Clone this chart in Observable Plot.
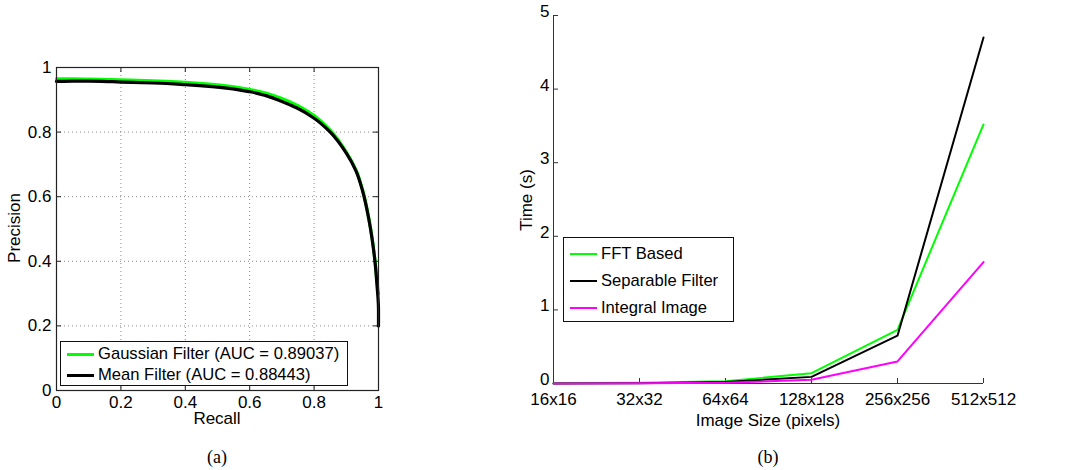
<!DOCTYPE html>
<html><head><meta charset="utf-8">
<script src="https://cdn.jsdelivr.net/npm/d3@7"></script>
<script src="https://cdn.jsdelivr.net/npm/@observablehq/plot@0.6"></script>
<style>
body{margin:0;background:#fff;font-family:"Liberation Sans",Arial,sans-serif;}
#wrap{position:relative;width:1070px;height:470px;overflow:hidden;}
#wrap svg text{font-family:"Liberation Sans",Arial,sans-serif !important;font-size:17px !important;fill:#000;}
.abs{position:absolute;white-space:nowrap;color:#000;}
.lbl{font-size:17px;transform:translate(-50%,-50%);}
.cap{font-family:"Liberation Serif","Times New Roman",serif;font-size:18px;transform:translate(-50%,-50%);}
.legend{position:absolute;border:1.5px solid #111;background:#fff;box-sizing:border-box;}
.row{position:absolute;left:6px;display:flex;align-items:center;font-size:16.6px;color:#000;}
.sw{display:inline-block;width:27px;margin-right:4px;}
</style></head>
<body><div id="wrap"></div>
<script>
// Panel (a): precision-recall
const recall = [0, 0.05, 0.1, 0.2, 0.3, 0.4, 0.5, 0.6, 0.65, 0.7, 0.75, 0.8, 0.85, 0.9, 0.93, 0.95, 0.97, 0.98, 0.99, 0.995, 1.0, 1.0];
const precisionMean = [0.957, 0.958, 0.958, 0.955, 0.952, 0.947, 0.939, 0.925, 0.913, 0.895, 0.873, 0.843, 0.800, 0.735, 0.68, 0.62, 0.53, 0.47, 0.39, 0.33, 0.25, 0.2];
const precisionGauss = [0.965, 0.965, 0.964, 0.962, 0.959, 0.954, 0.946, 0.932, 0.921, 0.904, 0.882, 0.851, 0.806, 0.738, 0.683, 0.623, 0.533, 0.473, 0.393, 0.34, 0.3, 0.3];
const prTicks = [0, 0.2, 0.4, 0.6, 0.8, 1];
const prSeries = ["Gaussian Filter (AUC = 0.89037)", "Mean Filter (AUC = 0.88443)"];

// Panel (b): timing
const sizes = ["16x16", "32x32", "64x64", "128x128", "256x256", "512x512"];
const timeFFT = [0.005, 0.01, 0.03, 0.14, 0.73, 3.52];
const timeSeparable = [0, 0.005, 0.02, 0.09, 0.65, 4.70];
const timeIntegral = [0, 0.005, 0.01, 0.05, 0.30, 1.65];
const timeTicks = [0, 1, 2, 3, 4, 5];
const timeSeries = ["FFT Based", "Separable Filter", "Integral Image"];

const GREEN = "#00ff00", BLACK = "#000000", MAGENTA = "#ff00ff";
const wrap = document.getElementById("wrap");

const prData = [];
recall.forEach((r, i) => prData.push({s: prSeries[0], r, p: precisionGauss[i]}));
recall.forEach((r, i) => prData.push({s: prSeries[1], r, p: precisionMean[i]}));

const aW = 400, aH = 430, aML = 56, aMR = 22, aMT = 67, aMB = 40;
const aPW = aW - aML - aMR, aPH = aH - aMT - aMB;
const plotA = Plot.plot({
  width: aW, height: aH, marginLeft: aML, marginRight: aMR, marginTop: aMT, marginBottom: aMB,
  style: {fontFamily: "Liberation Sans, Arial, sans-serif", fontSize: "17px", color: "#000", background: "transparent", overflow: "visible"},
  x: {domain: [0, 1], label: null},
  y: {domain: [0, 1], label: null},
  color: {domain: prSeries, range: [GREEN, BLACK]},
  marks: [
    Plot.gridX(prTicks, {stroke: "#888", strokeOpacity: 1, strokeDasharray: "1,3"}),
    Plot.gridY(prTicks, {stroke: "#888", strokeOpacity: 1, strokeDasharray: "1,3"}),
    Plot.axisX(prTicks, {tickSize: 0, tickPadding: 5, tickFormat: d => String(d), label: null}),
    Plot.axisY(prTicks, {tickSize: 0, tickPadding: 5, tickFormat: d => String(d), label: null}),
    Plot.ruleX(prTicks, {stroke: "#222", insetTop: aPH - 5}),
    Plot.ruleX(prTicks, {stroke: "#222", insetBottom: aPH - 5}),
    Plot.ruleY(prTicks, {stroke: "#222", insetRight: aPW - 5}),
    Plot.ruleY(prTicks, {stroke: "#222", insetLeft: aPW - 5}),
    Plot.line(prData, {x: "r", y: "p", z: "s", stroke: "s", strokeWidth: 3.2, curve: "monotone-y"}),
    Plot.frame({stroke: "#222", strokeWidth: 1.2})
  ]
});
plotA.style.position = "absolute"; plotA.style.left = "0px"; plotA.style.top = "0px";
wrap.appendChild(plotA);

const tData = [];
[[timeSeries[0], timeFFT], [timeSeries[1], timeSeparable], [timeSeries[2], timeIntegral]].forEach(([s, vals]) => {
  vals.forEach((v, i) => tData.push({s, size: sizes[i], t: v}));
});

const bLeft = 470;
const bW = 600, bH = 430, bML = 83, bMR = 87, bMT = 15, bMB = 47;
const bPW = bW - bML - bMR, bPH = bH - bMT - bMB;
const plotB = Plot.plot({
  width: bW, height: bH, marginLeft: bML, marginRight: bMR, marginTop: bMT, marginBottom: bMB,
  style: {fontFamily: "Liberation Sans, Arial, sans-serif", fontSize: "17px", color: "#000", background: "transparent", overflow: "visible"},
  x: {type: "point", domain: sizes, padding: 0, label: null},
  y: {domain: [0, 5], label: null},
  color: {domain: timeSeries, range: [GREEN, BLACK, MAGENTA]},
  marks: [
    Plot.axisX({tickSize: 0, tickPadding: 9, label: null}),
    Plot.axisY(timeTicks, {tickSize: 0, tickPadding: 4, dy: -4, tickFormat: d => String(d), label: null}),
    Plot.ruleX(sizes, {x: d => d, stroke: "#333", insetTop: bPH - 5}),
    Plot.ruleY(timeTicks, {y: d => d, stroke: "#333", insetRight: bPW - 5}),
    Plot.ruleX([sizes[0]], {stroke: "#333"}),
    Plot.ruleY([0], {stroke: "#333"}),
    Plot.line(tData, {x: "size", y: "t", z: "s", stroke: "s", strokeWidth: 2})
  ]
});
plotB.style.position = "absolute"; plotB.style.left = bLeft + "px"; plotB.style.top = "0px";
wrap.appendChild(plotB);

function addText(txt, x, y, cls, rot) {
  const d = document.createElement("div");
  d.className = "abs " + cls;
  d.textContent = txt;
  d.style.left = x + "px"; d.style.top = y + "px";
  if (rot) d.style.transform = "translate(-50%,-50%) rotate(-90deg)";
  wrap.appendChild(d);
}
addText("Recall", 217, 419, "lbl");
addText("Precision", 15, 228, "lbl", true);
addText("(a)", 217, 457, "cap");
addText("Image Size (pixels)", 768, 421, "lbl");
addText("Time (s)", 527, 200, "lbl", true);
addText("(b)", 768, 457, "cap");

function addLegend(x, y, w, h, names, colors, rowsY, lw) {
  const box = document.createElement("div");
  box.className = "legend";
  box.style.left = x + "px"; box.style.top = y + "px";
  box.style.width = w + "px"; box.style.height = h + "px";
  names.forEach((n, i) => {
    const row = document.createElement("div");
    row.className = "row";
    row.style.top = (rowsY[i] - y - 11) + "px";
    row.style.height = "22px";
    const sw = document.createElement("span");
    sw.className = "sw";
    sw.style.borderTop = lw + "px solid " + colors[i];
    const t = document.createElement("span");
    t.textContent = n;
    row.appendChild(sw); row.appendChild(t);
    box.appendChild(row);
  });
  wrap.appendChild(box);
}
addLegend(60, 341, 288, 45, prSeries, [GREEN, BLACK], [353, 374], 3);
addLegend(563, 237, 171, 85, timeSeries, [GREEN, BLACK, MAGENTA], [253, 280, 307], 2);
</script></body></html>
